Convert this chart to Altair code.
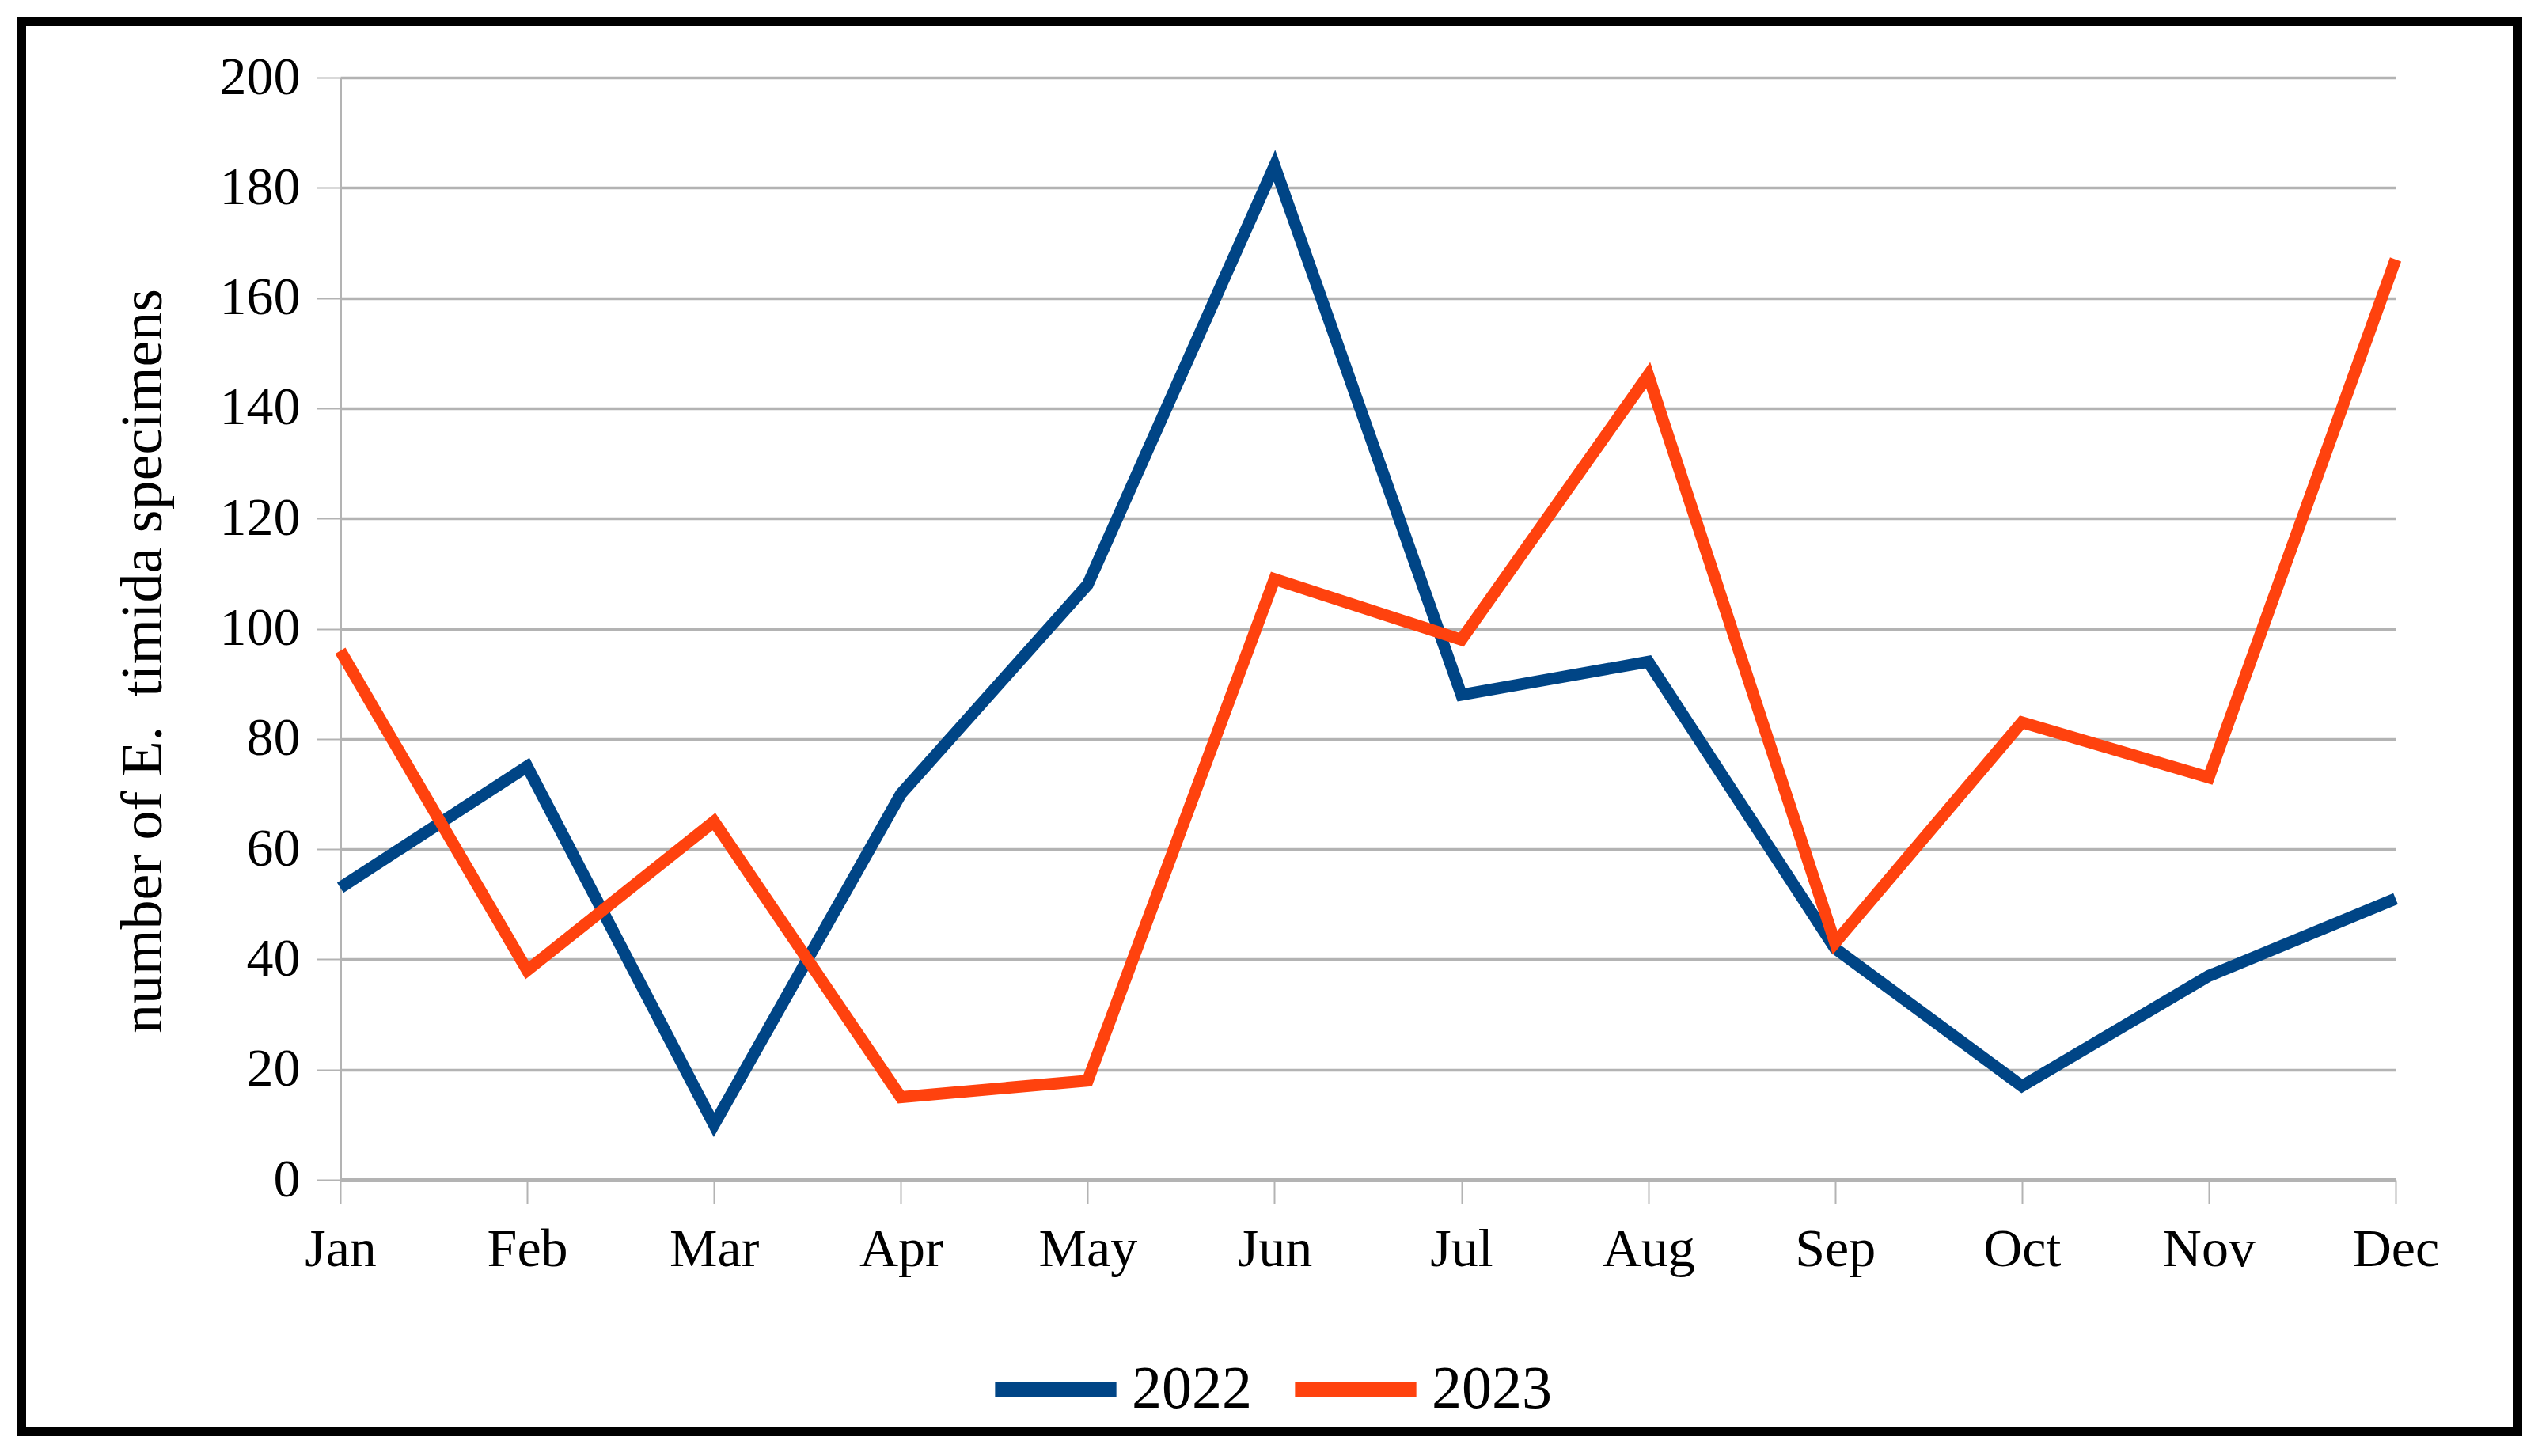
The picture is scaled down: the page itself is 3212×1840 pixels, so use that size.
import altair as alt
import pandas as pd

months = ["Jan", "Feb", "Mar", "Apr", "May", "Jun", "Jul", "Aug", "Sep", "Oct", "Nov", "Dec"]
series_names = ["2022", "2023"]
values_2022 = [53, 75, 10, 70, 108, 184, 88, 94, 42, 17, 37, 51]
values_2023 = [96, 38, 65, 15, 18, 109, 98, 146, 43, 83, 73, 167]
y_ticks = [0, 20, 40, 60, 80, 100, 120, 140, 160, 180, 200]
colors = ["#004586", "#ff420e"]

rows = []
for name, vals in zip(series_names, [values_2022, values_2023]):
    for i, (m, v) in enumerate(zip(months, vals)):
        rows.append({"month": m, "year": name, "count": v, "order": i})
df = pd.DataFrame(rows)

FONT = "Liberation Serif"
W, H = 2597, 1393

frame = alt.Chart(pd.DataFrame({"a": [0]})).mark_rect(
    fill="white", fillOpacity=0, stroke="black", strokeWidth=12
).encode(
    x=alt.value(-403), x2=alt.value(2751), y=alt.value(-71), y2=alt.value(1711)
)

lines = alt.Chart(df).mark_line(strokeWidth=15, strokeJoin="miter", strokeCap="butt").encode(
    x=alt.X("month:N", sort=months,
            scale=alt.Scale(type="point", padding=0),
            axis=alt.Axis(title=None, labelAngle=0, labelFont=FONT, labelFontSize=68,
                          labelColor="black", labelPadding=24,
                          tickSize=30, tickColor="#b3b3b3", tickWidth=2,
                          domainColor="#b3b3b3", domainWidth=5, grid=False)),
    y=alt.Y("count:Q", scale=alt.Scale(domain=[0, 200], nice=False),
            axis=alt.Axis(title="number of E.\u00a0 timida specimens", values=y_ticks,
                          labelFont=FONT, labelFontSize=68, labelColor="black",
                          labelPadding=21, tickSize=30, tickColor="#b3b3b3", tickWidth=2,
                          domainColor="#b3b3b3", domainWidth=3,
                          grid=True, gridColor="#b3b3b3", gridWidth=3.5,
                          titleFont=FONT, titleFontSize=74, titleFontWeight="normal",
                          titleColor="black", titleAngle=270, titleAlign="center",
                          titleBaseline="alphabetic", titleX=-227, titleY=737)),
    color=alt.Color("year:N", scale=alt.Scale(domain=series_names, range=colors),
                    legend=alt.Legend(title=None, orient="none", direction="horizontal",
                                      legendX=818, legendY=1572,
                                      symbolType="stroke", symbolSize=23500,
                                      symbolStrokeWidth=18, labelFont=FONT,
                                      labelFontSize=76, labelColor="black",
                                      labelOffset=10, columnPadding=18)),
    order="order:Q",
)

chart = alt.layer(frame, lines).properties(
    width=W, height=H, padding=13
).configure_view(
    stroke="#b3b3b3", strokeWidth=3
).configure(background="white")

chart.save("out.html", embed_options={"renderer": "svg", "actions": False})
